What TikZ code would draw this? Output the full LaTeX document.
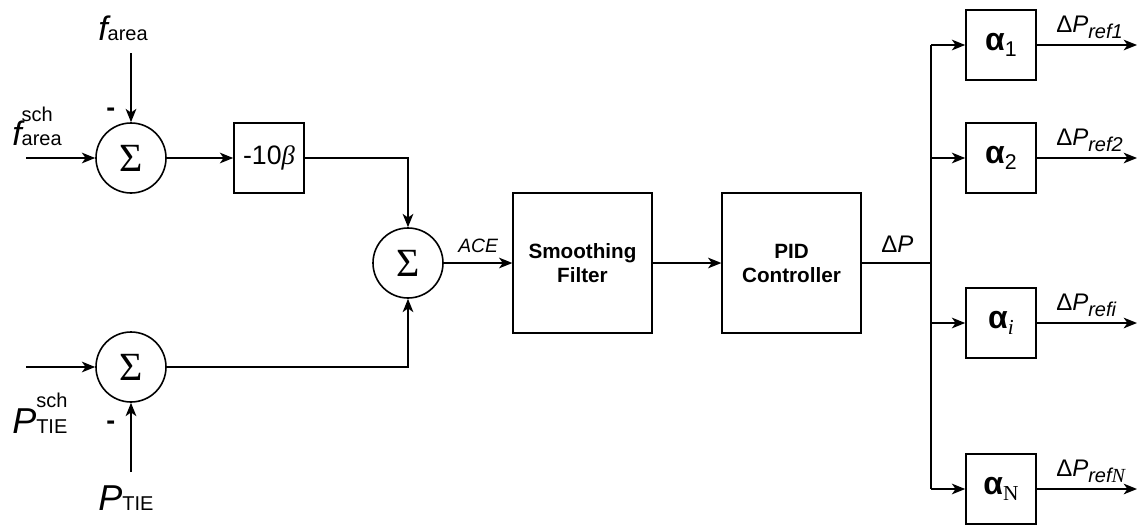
\documentclass[tikz,border=0pt]{standalone}
\usepackage{fontspec}
\setmainfont{Liberation Sans}
\newfontfamily\serifgr{Liberation Serif}
\usetikzlibrary{arrows.meta}
\newcommand{\fs}[1]{\fontsize{#1}{#1}\selectfont}
\begin{document}
\begin{tikzpicture}[x=0.75pt,y=-0.75pt,
  ln/.style={line width=1.2pt},
  arr/.style={line width=1.2pt,-{Stealth[length=10pt,width=8pt,inset=2.8pt]}},
  blk/.style={draw,line width=1.2pt,minimum width=52.5pt,minimum height=52.5pt,inner sep=0pt},
  bigblk/.style={draw,line width=1.2pt,minimum width=104pt,minimum height=105pt,inner sep=0pt,
    align=center,font=\bfseries\fs{15.5},execute at begin node=\setlength{\baselineskip}{18pt}},
  sumn/.style={draw,circle,line width=1.2pt,minimum size=52.5pt,inner sep=0pt,font=\serifgr\fs{30}},
  lbl/.style={inner sep=0pt,anchor=base west},
  alab/.style={font=\bfseries\fs{24}}
]
\useasboundingbox (0,0) rectangle (1138,525);

% summing junctions
\node[sumn] (s1) at (131,158) {Σ};
\node[sumn] (s2) at (408,263) {Σ};
\node[sumn] (s3) at (131,367) {Σ};

% blocks
\node[blk,font=\fs{20}] (g) at (269,158) {-10{\serifgr\itshape β}};
\node[bigblk] (sf) at (582.5,263) {Smoothing\\Filter};
\node[bigblk] (pid) at (791.5,263) {PID\\Controller};

\node[blk] (a1) at (1001,45) {{\bfseries\fs{24}α}\raisebox{-5pt}{\fs{16}1}};
\node[blk] (a2) at (1001,158) {{\bfseries\fs{24}α}\raisebox{-5pt}{\fs{16}2}};
\node[blk] (ai) at (1001,323) {{\bfseries\fs{24}α}\raisebox{-5pt}{\serifgr\itshape\fs{16}i}};
\node[blk] (aN) at (1001,489) {{\bfseries\fs{24}α}\raisebox{-5pt}{\serifgr\fs{16}N}};

% labels
\node[lbl] (lfa) at (98,40) {{\fs{25.5}\itshape f}{\fs{15}area}};
\node[lbl] (lfs) at (12,145) {{\fs{25.5}\itshape f}\rlap{\raisebox{18pt}{\fs{15}sch}}{\fs{15}area}};
\node[lbl] (lps) at (12,433) {{\fs{27}\itshape P}\rlap{\raisebox{19pt}{\fs{15}sch}}{\fs{15}TIE}};
\node[lbl] (lpt) at (98,510) {{\fs{27}\itshape P}{\fs{15}TIE}};
\node[lbl,font=\bfseries\fs{20}] (m1) at (106,116) {-};
\node[lbl,font=\bfseries\fs{20}] (m2) at (106,429) {-};
\node[lbl,font=\itshape\fs{14.5}] (ace) at (458,252) {ACE};
\node[lbl,font=\fs{18}] (dp) at (881,252) {Δ\textit{P}};
\node[lbl,font=\fs{18}] (r1) at (1056,32) {Δ\textit{P}\raisebox{-4.5pt}{\fs{15}\itshape ref1}};
\node[lbl,font=\fs{18}] (r2) at (1056,145) {Δ\textit{P}\raisebox{-4.5pt}{\fs{15}\itshape ref2}};
\node[lbl,font=\fs{18}] (ri) at (1056,310) {Δ\textit{P}\raisebox{-4.5pt}{\fs{15}\itshape refi}};
\node[lbl,font=\fs{18}] (rN) at (1056,476) {Δ\textit{P}\raisebox{-4.5pt}{\fs{15}\itshape ref{\serifgr N}}};

% coordinates for free ends
\coordinate (in1) at (26,158);
\coordinate (in3) at (26,367);
\coordinate (fa) at (131,53);
\coordinate (pt) at (131,472);
\coordinate (bt) at (931,45);
\coordinate (bb) at (931,489);
\coordinate (bm) at (931,263);
\coordinate (ox) at (1137,0);

% connectors
\draw[arr] (in1) -- (s1);
\draw[arr] (fa) -- (s1);
\draw[arr] (s1) -- (g);
\draw[arr] (g.east) -| (s2.north);
\draw[arr] (in3) -- (s3);
\draw[arr] (pt) -- (s3);
\draw[arr] (s3.east) -| (s2.south);
\draw[arr] (s2) -- (sf);
\draw[arr] (sf) -- (pid);
\draw[ln] (pid.east) -- (bm);
\draw[ln] (bt) -- (bb);
\draw[arr] (bt) -- (a1);
\draw[arr] (bt |- a2) -- (a2);
\draw[arr] (bt |- ai) -- (ai);
\draw[arr] (bb) -- (aN);
\draw[arr] (a1) -- (a1 -| ox);
\draw[arr] (a2) -- (a2 -| ox);
\draw[arr] (ai) -- (ai -| ox);
\draw[arr] (aN) -- (aN -| ox);
\end{tikzpicture}
\end{document}
